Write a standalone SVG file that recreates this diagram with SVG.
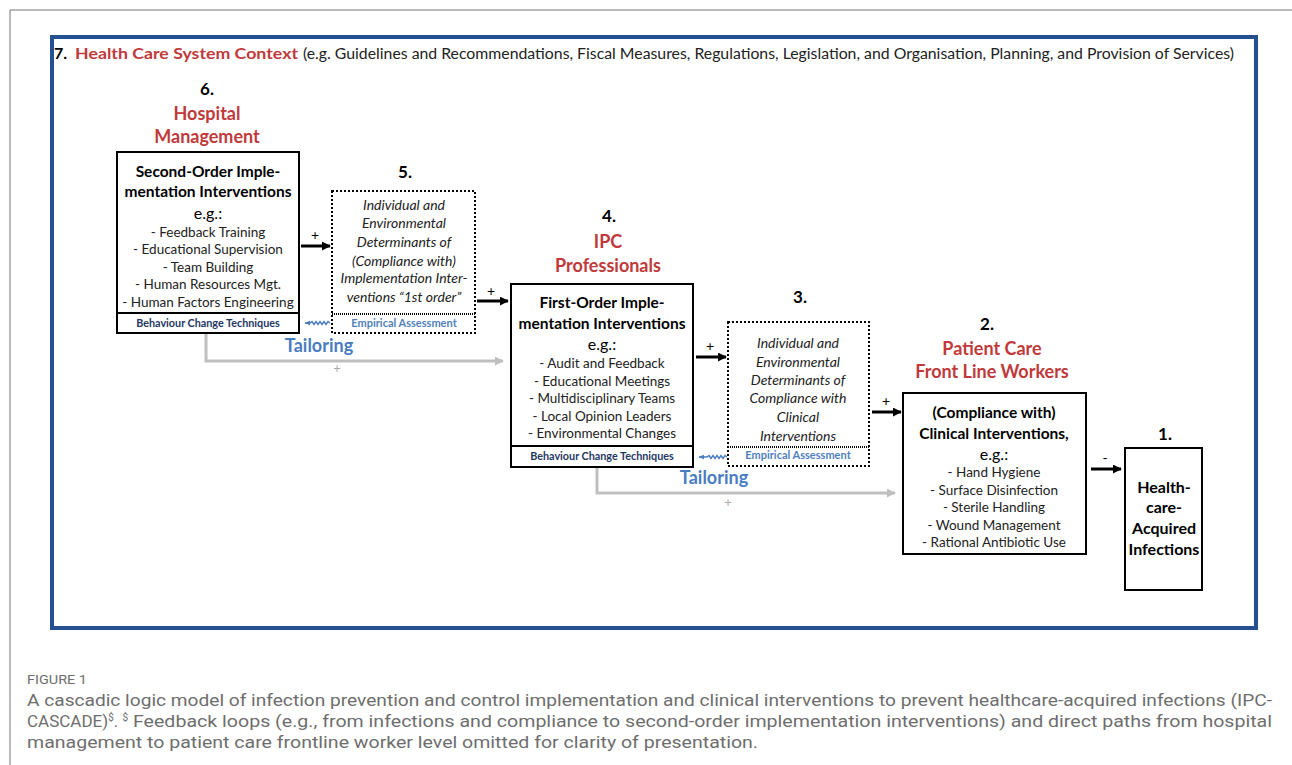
<svg xmlns="http://www.w3.org/2000/svg" width="1292" height="765" viewBox="0 0 1292 765">
<defs>
<style>
text{font-family:Lato,"Open Sans","Liberation Sans",sans-serif;fill:#000}
.t{font-weight:bold;font-size:15.5px;text-anchor:middle}
.eg{font-size:16px;text-anchor:middle}
.li{font-size:13.5px;text-anchor:middle;fill:#222}
.it{font-style:italic;font-size:14px;text-anchor:middle;fill:#222}
.num{font-weight:bold;font-size:17px;text-anchor:middle}
.red{font-weight:bold;font-size:18px;text-anchor:middle;fill:#c0393b}
.bct{font-weight:bold;font-size:10.8px;text-anchor:middle;fill:#1f3864}
.ea{font-weight:bold;font-size:11px;text-anchor:middle;fill:#4f81bd}
.tail{font-weight:bold;font-size:18px;text-anchor:middle;fill:#4a7cc0}
.pl{font-size:14px;text-anchor:middle}
.gp{font-size:13px;text-anchor:middle;fill:#aaa}
.box{fill:#fff;stroke:#000;stroke-width:2}
.dbox{fill:#fff;stroke:#000;stroke-width:2;stroke-dasharray:2 2}
.cap{font-family:Roboto,"Liberation Sans",sans-serif;fill:#6e6e6e;font-size:17px}
</style>
<marker id="ab" viewBox="0 0 10 10" refX="9" refY="5" markerWidth="3" markerHeight="3" orient="auto"><path d="M0,0L10,5L0,10z" fill="#000"/></marker>
<marker id="ag" viewBox="0 0 10 10" refX="9" refY="5" markerWidth="3" markerHeight="3" orient="auto"><path d="M0,0L10,5L0,10z" fill="#bfbfbf"/></marker>
<marker id="abl" viewBox="0 0 10 10" refX="9" refY="5" markerWidth="4" markerHeight="4" orient="auto"><path d="M0,1L10,5L0,9z" fill="#4a7cc0"/></marker>
</defs>
<rect width="1292" height="765" fill="#fff"/>
<path d="M10,765V10H1292" fill="none" stroke="#777" stroke-width="1"/>
<rect x="52" y="37" width="1204" height="591" fill="none" stroke="#24508f" stroke-width="4"/>
<g id="header">
<text x="54" y="59" style="font-weight:bold;font-size:16px">7.</text>
<text x="75" y="59" style="font-weight:bold;font-size:16px;fill:#c0393b" textLength="223" lengthAdjust="spacingAndGlyphs">Health Care System Context</text>
<text x="303" y="59" style="font-size:15.5px;fill:#222" textLength="931" lengthAdjust="spacingAndGlyphs">(e.g. Guidelines and Recommendations, Fiscal Measures, Regulations, Legislation, and Organisation, Planning, and Provision of Services)</text>
</g>
<g id="connectors">
<path d="M206,334V361H503" fill="none" stroke="#bfbfbf" stroke-width="3" marker-end="url(#ag)"/>
<path d="M597,468V493H895" fill="none" stroke="#bfbfbf" stroke-width="3" marker-end="url(#ag)"/>
<line x1="301" y1="246" x2="330" y2="246" stroke="#000" stroke-width="3" marker-end="url(#ab)"/>
<line x1="477" y1="301" x2="508" y2="301" stroke="#000" stroke-width="3" marker-end="url(#ab)"/>
<line x1="696" y1="357" x2="726" y2="357" stroke="#000" stroke-width="3" marker-end="url(#ab)"/>
<line x1="872" y1="412" x2="901" y2="412" stroke="#000" stroke-width="3" marker-end="url(#ab)"/>
<line x1="1091" y1="469" x2="1121" y2="469" stroke="#000" stroke-width="3" marker-end="url(#ab)"/>
<path d="M330,323L328,321.5L326,324.5L324,321.5L322,324.5L320,321.5L318,324.5L316,321.5L314,324.5L312,321.5L310,323L305,323" fill="none" stroke="#4a7cc0" stroke-width="1.4" marker-end="url(#abl)"/>
<path d="M727,457L725,455.5L723,458.5L721,455.5L719,458.5L717,455.5L715,458.5L713,455.5L711,458.5L709,455.5L707,457L699,457" fill="none" stroke="#4a7cc0" stroke-width="1.4" marker-end="url(#abl)"/>
<text class="pl" x="315" y="240">+</text>
<text class="pl" x="491" y="296">+</text>
<text class="pl" x="710" y="351">+</text>
<text class="pl" x="886" y="406">+</text>
<text class="pl" x="1105" y="463">-</text>
<text class="tail" x="319" y="352">Tailoring</text>
<text class="tail" x="714" y="484">Tailoring</text>
<text class="gp" x="337" y="373">+</text>
<text class="gp" x="728" y="507">+</text>
</g>
<g id="node6">
<text class="num" x="207" y="95">6.</text>
<text class="red" x="207" y="120">Hospital</text>
<text class="red" x="207" y="143">Management</text>
<rect class="box" x="117" y="152" width="182" height="181"/>
<line x1="117" y1="313" x2="299" y2="313" stroke="#000" stroke-width="2"/>
<text class="t" x="208" y="177">Second-Order Imple-</text>
<text class="t" x="208" y="197">mentation Interventions</text>
<text class="eg" x="208" y="219">e.g.:</text>
<text class="li" x="208" y="237">- Feedback Training</text>
<text class="li" x="208" y="254">- Educational Supervision</text>
<text class="li" x="208" y="272">- Team Building</text>
<text class="li" x="208" y="289">- Human Resources Mgt.</text>
<text class="li" x="208" y="307">- Human Factors Engineering</text>
<text class="bct" x="208" y="327">Behaviour Change Techniques</text>
</g>
<g id="node5">
<text class="num" x="405" y="178">5.</text>
<rect class="dbox" x="332" y="191" width="143" height="142"/>
<line x1="332" y1="314" x2="475" y2="314" stroke="#000" stroke-width="2" stroke-dasharray="1 1"/>
<text class="it" x="404" y="210">Individual  and</text>
<text class="it" x="404" y="228">Environmental</text>
<text class="it" x="404" y="247">Determinants of</text>
<text class="it" x="404" y="266">(Compliance with)</text>
<text class="it" x="404" y="283">Implementation Inter-</text>
<text class="it" x="404" y="302">ventions “1st order”</text>
<text class="ea" x="404" y="327">Empirical Assessment</text>
</g>
<g id="node4">
<text class="num" x="609" y="222">4.</text>
<text class="red" x="608" y="248">IPC</text>
<text class="red" x="608" y="272">Professionals</text>
<rect class="box" x="511" y="284" width="182" height="183"/>
<line x1="511" y1="446" x2="693" y2="446" stroke="#000" stroke-width="2"/>
<text class="t" x="602" y="308">First-Order Imple-</text>
<text class="t" x="602" y="329">mentation Interventions</text>
<text class="eg" x="602" y="350">e.g.:</text>
<text class="li" x="602" y="368">- Audit and Feedback</text>
<text class="li" x="602" y="386">- Educational Meetings</text>
<text class="li" x="602" y="403">- Multidisciplinary Teams</text>
<text class="li" x="602" y="421">- Local Opinion Leaders</text>
<text class="li" x="602" y="438">- Environmental Changes</text>
<text class="bct" x="602" y="460">Behaviour Change Techniques</text>
</g>
<g id="node3">
<text class="num" x="800" y="303">3.</text>
<rect class="dbox" x="728" y="322" width="141" height="144"/>
<line x1="728" y1="447" x2="869" y2="447" stroke="#000" stroke-width="2" stroke-dasharray="1 1"/>
<text class="it" x="798" y="348">Individual and</text>
<text class="it" x="798" y="367">Environmental</text>
<text class="it" x="798" y="385">Determinants of</text>
<text class="it" x="798" y="403">Compliance with</text>
<text class="it" x="798" y="422">Clinical</text>
<text class="it" x="798" y="441">Interventions</text>
<text class="ea" x="798" y="459">Empirical Assessment</text>
</g>
<g id="node2">
<text class="num" x="987" y="330">2.</text>
<text class="red" x="992" y="355">Patient Care</text>
<text class="red" x="992" y="378">Front Line Workers</text>
<rect class="box" x="903" y="393" width="183" height="161"/>
<text class="t" x="994" y="418">(Compliance with)</text>
<text class="t" x="994" y="439">Clinical Interventions,</text>
<text class="eg" x="994" y="460">e.g.:</text>
<text class="li" x="994" y="477">- Hand Hygiene</text>
<text class="li" x="994" y="495">- Surface Disinfection</text>
<text class="li" x="994" y="512">- Sterile Handling</text>
<text class="li" x="994" y="530">- Wound Management</text>
<text class="li" x="994" y="547">- Rational Antibiotic Use</text>
</g>
<g id="node1">
<text class="num" x="1165" y="440">1.</text>
<rect class="box" x="1125" y="448" width="77" height="142"/>
<text class="t" x="1164" y="493" style="font-size:16px">Health-</text>
<text class="t" x="1164" y="513" style="font-size:16px">care-</text>
<text class="t" x="1164" y="534" style="font-size:16px">Acquired</text>
<text class="t" x="1164" y="555" style="font-size:16px">Infections</text>
</g>
<g id="caption">
<text class="cap" x="27" y="684" style="font-size:13.5px" textLength="60" lengthAdjust="spacingAndGlyphs">FIGURE 1</text>
<text class="cap" x="27" y="706" textLength="1245" lengthAdjust="spacingAndGlyphs">A cascadic logic model of infection prevention and control implementation and clinical interventions to prevent healthcare-acquired infections (IPC-</text>
<text class="cap" x="27" y="727">CASCADE)<tspan dy="-6" style="font-size:10px">$</tspan><tspan dy="6">. </tspan><tspan dy="-6" style="font-size:10px">$</tspan></text>
<text class="cap" x="133" y="727" textLength="1139" lengthAdjust="spacingAndGlyphs">Feedback loops (e.g., from infections and compliance to second-order implementation interventions) and direct paths from hospital</text>
<text class="cap" x="27" y="748" textLength="731" lengthAdjust="spacingAndGlyphs">management to patient care frontline worker level omitted for clarity of presentation.</text>
</g>
</svg>
